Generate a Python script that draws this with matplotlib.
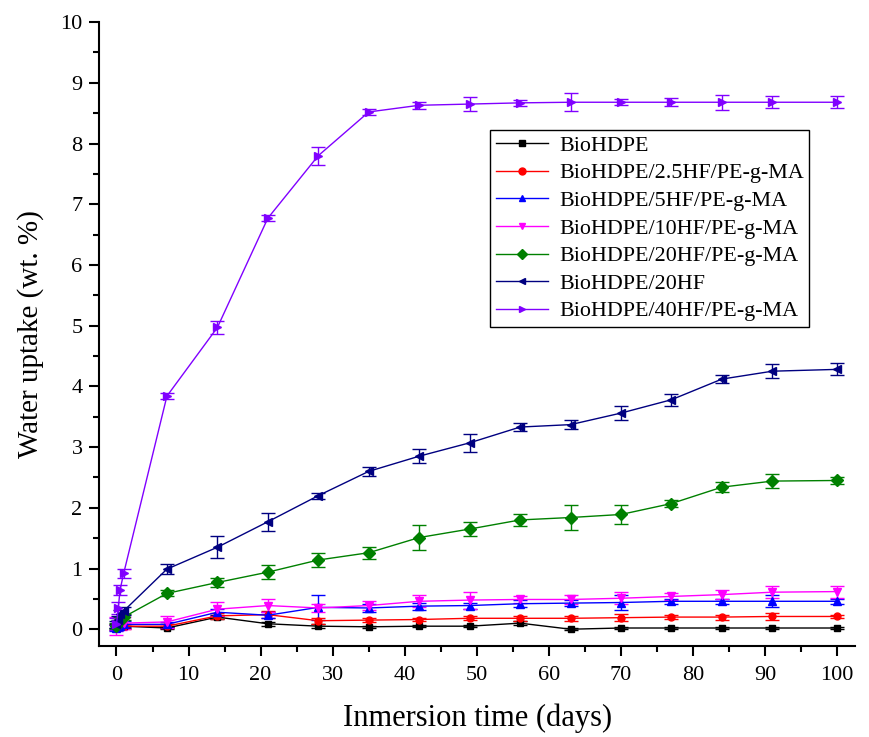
import numpy as np
import matplotlib.pyplot as plt
from matplotlib.ticker import MultipleLocator
from matplotlib.lines import Line2D

plt.rcParams['font.family'] = ['Liberation Serif', 'DejaVu Serif']

# tiempos de inmersion (dias)
days = [0, 0.25, 0.5, 1, 7, 14, 21, 28, 35, 42, 49, 56, 63, 70, 77, 84, 91, 100]

labels = ['BioHDPE', 'BioHDPE/2.5HF/PE-g-MA', 'BioHDPE/5HF/PE-g-MA',
          'BioHDPE/10HF/PE-g-MA', 'BioHDPE/20HF/PE-g-MA', 'BioHDPE/20HF',
          'BioHDPE/40HF/PE-g-MA']

hdpe = [0.05, 0.04, 0.05, 0.05, 0.02, 0.20, 0.09, 0.05, 0.04, 0.05, 0.05, 0.10, 0.00, 0.02, 0.02, 0.02, 0.02, 0.02]
hdpe_err = [0.03, 0.03, 0.03, 0.03, 0.02, 0.03, 0.03, 0.03, 0.02, 0.02, 0.02, 0.03, 0.02, 0.02, 0.02, 0.02, 0.02, 0.02]

hf2_5 = [0.03, 0.04, 0.05, 0.05, 0.05, 0.22, 0.24, 0.14, 0.15, 0.16, 0.18, 0.18, 0.18, 0.19, 0.20, 0.20, 0.21, 0.21]
hf2_5_err = [0.04, 0.04, 0.04, 0.04, 0.03, 0.05, 0.06, 0.05, 0.03, 0.03, 0.03, 0.04, 0.04, 0.06, 0.03, 0.04, 0.05, 0.02]

hf5 = [0.02, 0.05, 0.06, 0.08, 0.08, 0.28, 0.23, 0.36, 0.35, 0.38, 0.39, 0.42, 0.43, 0.44, 0.46, 0.46, 0.46, 0.46]
hf5_err = [0.05, 0.05, 0.05, 0.05, 0.04, 0.06, 0.05, 0.20, 0.06, 0.06, 0.05, 0.06, 0.05, 0.12, 0.04, 0.04, 0.10, 0.04]

hf10 = [0.05, 0.10, 0.08, 0.10, 0.12, 0.33, 0.39, 0.35, 0.39, 0.46, 0.48, 0.49, 0.49, 0.51, 0.54, 0.57, 0.61, 0.62]
hf10_err = [0.15, 0.10, 0.10, 0.10, 0.10, 0.12, 0.10, 0.07, 0.08, 0.10, 0.14, 0.05, 0.08, 0.10, 0.06, 0.08, 0.10, 0.10]

hf20_ma = [0.05, 0.10, 0.15, 0.20, 0.59, 0.77, 0.94, 1.14, 1.26, 1.51, 1.65, 1.80, 1.84, 1.89, 2.07, 2.34, 2.44, 2.45]
hf20_ma_err = [0.05, 0.05, 0.05, 0.05, 0.05, 0.08, 0.12, 0.12, 0.10, 0.20, 0.12, 0.10, 0.20, 0.15, 0.06, 0.08, 0.12, 0.05]

hf20 = [0.08, 0.15, 0.25, 0.30, 0.99, 1.35, 1.77, 2.20, 2.60, 2.85, 3.07, 3.33, 3.37, 3.56, 3.78, 4.12, 4.25, 4.28]
hf20_err = [0.06, 0.06, 0.06, 0.06, 0.08, 0.18, 0.15, 0.05, 0.07, 0.12, 0.15, 0.07, 0.08, 0.12, 0.10, 0.07, 0.12, 0.10]

hf40 = [0.08, 0.35, 0.65, 0.92, 3.84, 4.97, 6.77, 7.80, 8.52, 8.63, 8.65, 8.67, 8.68, 8.68, 8.68, 8.68, 8.68, 8.68]
hf40_err = [0.10, 0.10, 0.08, 0.08, 0.05, 0.10, 0.05, 0.15, 0.05, 0.06, 0.12, 0.05, 0.15, 0.05, 0.07, 0.12, 0.10, 0.10]

series = [hdpe, hf2_5, hf5, hf10, hf20_ma, hf20, hf40]
errors = [hdpe_err, hf2_5_err, hf5_err, hf10_err, hf20_ma_err, hf20_err, hf40_err]
colors = ['black', 'red', 'blue', 'magenta', 'green', 'navy', '#8000ff']
markers = ['s', 'o', '^', 'v', 'D', '<', '>']
msizes = [5, 5, 6, 6, 6, 6, 6]

fig = plt.figure(figsize=(8.7, 7.37), dpi=100)
ax = fig.add_axes([0.114, 0.124, 0.869, 0.846])

handles = []
for y, e, c, m, ms, lab in zip(series, errors, colors, markers, msizes, labels):
    ax.errorbar(days, y, yerr=e, color=c, marker=m, ms=ms, lw=1, elinewidth=1,
                capsize=5, capthick=1)
    # en la leyenda solo linea + marcador, sin barras de error
    handles.append(Line2D([], [], color=c, marker=m, ms=5, lw=1, label=lab))

ax.set_xlim(-2.4, 102.5)
ax.set_ylim(-0.27, 10)
ax.xaxis.set_major_locator(MultipleLocator(10))
ax.xaxis.set_minor_locator(MultipleLocator(5))
ax.yaxis.set_major_locator(MultipleLocator(1))
ax.yaxis.set_minor_locator(MultipleLocator(0.5))
ax.spines['top'].set_visible(False)
ax.spines['right'].set_visible(False)
for s in ['left', 'bottom']:
    ax.spines[s].set_linewidth(1.5)
ax.tick_params(which='major', direction='out', length=7, width=1.5, labelsize=16)
ax.tick_params(axis='x', which='major', pad=8)
ax.tick_params(axis='y', which='major', pad=5)
ax.tick_params(which='minor', direction='out', length=4, width=1.5)

ax.set_xlabel('Inmersion time (days)', fontsize=22, labelpad=13)
ax.set_ylabel('Water uptake (wt. %)', fontsize=21, labelpad=12)

leg = ax.legend(handles=handles, loc='upper left', bbox_to_anchor=(0.517, 0.827),
                fontsize=15.8, numpoints=1, fancybox=False, framealpha=1,
                edgecolor='black', handlelength=2.4, borderpad=0.25,
                labelspacing=0.33, handletextpad=0.5, borderaxespad=0)
leg.get_frame().set_linewidth(1)

fig.savefig('out.png', dpi=100)
